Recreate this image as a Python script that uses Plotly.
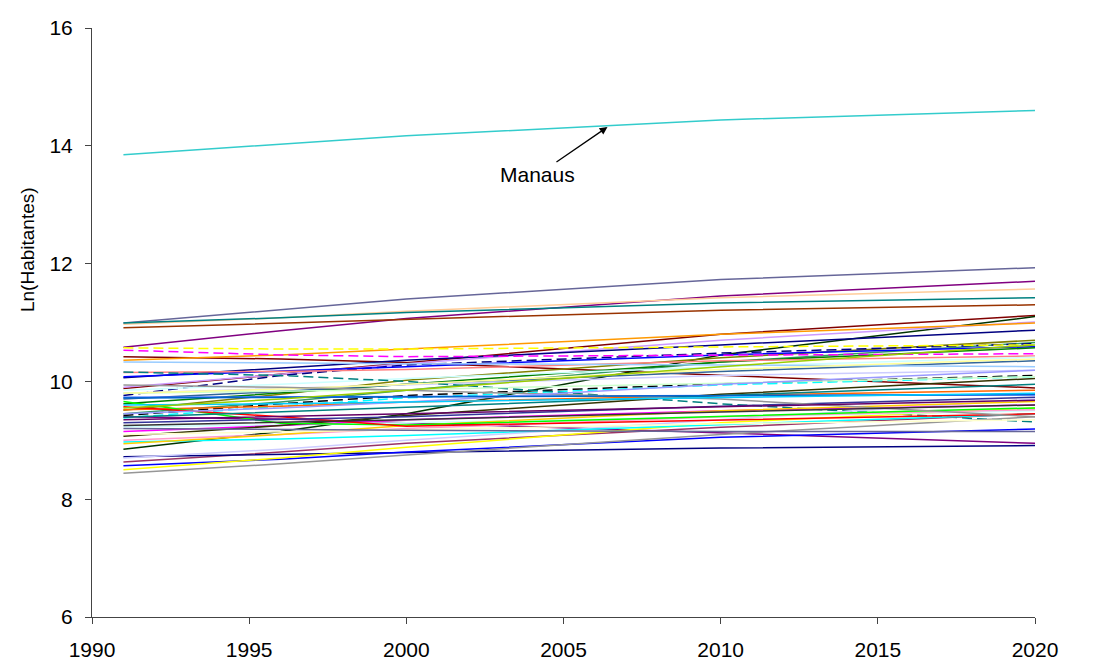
import plotly.graph_objects as go

# ---- data ----
years = [1991, 1996, 2000, 2010, 2020]

manaus = [13.85, 14.03, 14.17, 14.44, 14.60]

ln_pop = [
    [10.99, 11.22, 11.40, 11.73, 11.93],
    [10.58, 10.86, 11.07, 11.45, 11.70],
    [10.97, 11.08, 11.19, 11.42, 11.57],
    [10.99, 11.08, 11.17, 11.33, 11.42],
    [10.91, 10.99, 11.06, 11.21, 11.30],
    [9.88, 10.12, 10.32, 10.80, 11.12],
    [10.42, 10.38, 10.32, 10.10, 9.89],
    [8.85, 9.15, 9.45, 10.45, 11.10],
    [9.90, 10.12, 10.30, 10.70, 11.01],
    [10.36, 10.45, 10.55, 10.80, 10.99],
    [10.06, 10.22, 10.36, 10.62, 10.87],
    [9.51, 9.78, 10.02, 10.40, 10.70],
    [9.45, 9.65, 9.85, 10.33, 10.66],
    [9.76, 10.10, 10.28, 10.48, 10.64],
    [10.57, 10.55, 10.55, 10.58, 10.62],
    [10.08, 10.17, 10.25, 10.45, 10.59],
    [9.62, 9.80, 9.95, 10.33, 10.57],
    [10.53, 10.45, 10.42, 10.44, 10.47],
    [10.15, 10.17, 10.20, 10.35, 10.43],
    [9.85, 9.95, 10.05, 10.25, 10.41],
    [9.70, 9.83, 9.95, 10.17, 10.35],
    [10.33, 10.31, 10.30, 10.28, 10.25],
    [9.80, 9.88, 9.95, 10.10, 10.19],
    [9.42, 9.62, 9.76, 9.96, 10.10],
    [9.38, 9.58, 9.72, 9.94, 10.08],
    [10.16, 10.10, 10.00, 9.62, 9.31],
    [9.52, 9.58, 9.65, 9.76, 9.85],
    [9.73, 9.74, 9.74, 9.76, 9.77],
    [9.40, 9.36, 9.30, 9.12, 8.95],
    [8.63, 8.80, 8.95, 9.22, 9.45],
    [8.72, 8.76, 8.80, 8.87, 8.91],
    [8.57, 8.68, 8.80, 9.05, 9.19],
    [8.50, 8.70, 8.88, 9.30, 9.55],
    [8.44, 8.60, 8.75, 9.10, 9.40],
    [8.70, 8.85, 9.00, 9.35, 9.70],
    [8.97, 9.02, 9.08, 9.27, 9.45],
    [9.23, 9.26, 9.30, 9.40, 9.50],
    [9.15, 9.25, 9.35, 9.50, 9.60],
    [9.07, 9.25, 9.42, 9.78, 10.05],
    [9.00, 9.10, 9.20, 9.40, 9.52],
    [8.94, 9.10, 9.25, 9.50, 9.66],
    [9.66, 9.29, 9.26, 9.40, 9.55],
    [9.57, 9.40, 9.24, 9.35, 9.45],
    [9.39, 9.48, 9.56, 9.76, 9.95],
    [9.30, 9.35, 9.40, 9.58, 9.73],
    [9.80, 9.83, 9.86, 9.97, 10.08],
    [9.80, 9.87, 9.95, 10.20, 10.38],
    [9.94, 9.90, 9.85, 9.70, 9.40],
    [9.45, 9.55, 9.65, 9.95, 10.19],
    [9.72, 9.73, 9.74, 9.76, 9.78],
    [9.35, 9.40, 9.45, 9.57, 9.68],
    [9.60, 9.62, 9.65, 9.72, 9.80],
    [9.25, 9.30, 9.35, 9.48, 9.60],
    [9.10, 9.14, 9.18, 9.28, 9.35],
    [9.55, 9.70, 9.85, 10.25, 10.62],
    [9.20, 9.18, 9.17, 9.15, 9.15],
]

# ---- styles ----
line_colors = [
    "#666699", "#800080", "#FFCC99", "#008080", "#993300", "#800000", "#800000",
    "#003300", "#CC99FF", "#FF9900", "#000080", "#808000", "#339966", "#000080",
    "#FFFF00", "#0000FF", "#008000", "#FF00FF", "#FF8080", "#CCFFFF", "#336699",
    "#99CCFF", "#CCCCFF", "#000000", "#00FFFF", "#008080", "#FF6600", "#3366FF",
    "#800080", "#993366", "#000080", "#0000FF", "#FFFF00", "#969696", "#CCCCFF",
    "#00FFFF", "#CCFFFF", "#FF00FF", "#333300", "#FF99CC", "#FFCC00", "#00FF00",
    "#FF0000", "#008080", "#333399", "#CCFFCC", "#FFFF99", "#969696", "#9999FF",
    "#0066CC", "#660066", "#00CCFF", "#333333", "#FFFFCC", "#99CC00", "#666699",
]
dashed = {13, 14, 17, 23, 24, 25}

FONT = "Liberation Sans, Arial, sans-serif"

fig = go.Figure()
for i, vals in enumerate(ln_pop):
    fig.add_trace(go.Scatter(
        x=years, y=vals, mode="lines", name=f"Município {i + 1}",
        line=dict(color=line_colors[i], width=1.5,
                  dash="10px,5px" if i in dashed else "solid"),
        showlegend=False, hoverinfo="skip",
    ))

fig.add_trace(go.Scatter(
    x=years, y=manaus, mode="lines", name="Manaus",
    line=dict(color="#33CCCC", width=1.5), showlegend=False,
))

fig.add_annotation(
    x=2006.4, y=14.32, xref="x", yref="y",
    text="Manaus", showarrow=True,
    ax=-70, ay=48, arrowhead=2, arrowsize=1.2, arrowwidth=1.3,
    arrowcolor="black", font=dict(family=FONT, size=21, color="black"),
)

# y-axis title (placed above the plot's vertical centre, as in the reference)
fig.add_annotation(
    x=0, xref="paper", xshift=-65, y=0.623, yref="paper",
    text="Ln(Habitantes)", textangle=-90, showarrow=False,
    xanchor="center", yanchor="middle",
    font=dict(family=FONT, size=19, color="black"),
)

axis_font = dict(family=FONT, size=21, color="black")
fig.update_layout(
    width=1085, height=655,
    margin=dict(l=84, r=58, t=20, b=46, autoexpand=False),
    paper_bgcolor="white", plot_bgcolor="white",
    font=dict(family=FONT, color="black"),
    xaxis=dict(
        range=[1990, 2020], tickvals=[1990, 1995, 2000, 2005, 2010, 2015, 2020],
        showgrid=False, zeroline=False, showline=True, linecolor="#444444", linewidth=1,
        ticks="outside", ticklen=6, tickcolor="#444444", tickfont=axis_font,
        ticklabelstandoff=8, automargin=False,
    ),
    yaxis=dict(
        range=[6, 16], tickvals=[6, 8, 10, 12, 14, 16],
        showgrid=False, zeroline=False, showline=True, linecolor="#444444", linewidth=1,
        ticks="outside", ticklen=6, tickcolor="#444444", tickfont=axis_font,
        ticklabelstandoff=8, automargin=False,
    ),
)

fig.write_html("out.html")
